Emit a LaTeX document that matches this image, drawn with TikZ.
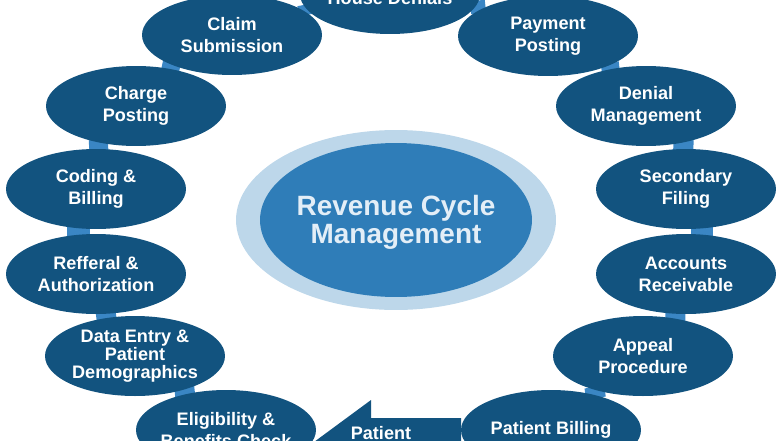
\documentclass[tikz,border=0pt]{standalone}
\usepackage{fontspec}
\setmainfont{Liberation Sans}
\usetikzlibrary{backgrounds}
\usetikzlibrary{shapes.geometric}
\definecolor{stepBlue}{HTML}{12537F}
\definecolor{linkBlue}{HTML}{3A86C4}
\definecolor{hubBlue}{HTML}{2F7DB8}
\definecolor{hubHalo}{HTML}{BDD7EA}
\definecolor{hubText}{HTML}{E3EEF7}
\tikzset{
	cycleStep/.style={ellipse, fill=stepBlue, text=white, font=\bfseries\fontsize{10.3}{10.6}\selectfont,
		align=center, minimum width=3.6cm, minimum height=1.6cm, inner sep=0pt, outer sep=0pt},
	cycleLink/.style={draw=linkBlue, line width=#1, shorten <=-1.5pt, shorten >=-1.5pt}
}
\newcommand{\drawStep}[3]{
	\node[cycleStep] (#1) at (#2) {#3};
}
\newcommand{\drawLink}[5]{
	\draw[cycleLink=#5] (#1.#2) -- (#3.#4);
}

\begin{document}
\begin{tikzpicture}[x=0.02cm,y=-0.02cm]
		\useasboundingbox (0,0) rectangle (780,440);
		\clip (0,0) rectangle (780,440);

		\coordinate (C_Claim) at (232,35);
		\coordinate (C_House) at (390,-6);
		\coordinate (C_Payment) at (548,36);
		\coordinate (C_Denial) at (646,106);
		\coordinate (C_Secondary) at (686,189);
		\coordinate (C_Accounts) at (686,274);
		\coordinate (C_Appeal) at (643,356);
		\coordinate (C_Billing) at (551,430);
		\coordinate (C_Eligibility) at (226,430);
		\coordinate (C_Data) at (135,356);
		\coordinate (C_Refferal) at (96,274);
		\coordinate (C_Coding) at (96,189);
		\coordinate (C_Charge) at (136,106);

		% centre
		\node[ellipse, fill=hubHalo, minimum width=6.4cm, minimum height=3.6cm, inner sep=0pt, outer sep=0pt] (halo) at (396,220) {};
		\node[ellipse, fill=hubBlue, text=hubText, font=\bfseries\fontsize{15.9}{15.9}\selectfont, align=center,
			minimum width=5.44cm, minimum height=3.08cm, inner sep=0pt, outer sep=0pt] (hub) at (396,220)
			{\rule{0pt}{14.5pt}\makebox[0pt]{Revenue Cycle}\\\makebox[0pt]{Management}};

		% steps
		\drawStep{claim}{C_Claim}{Claim\\[1.8pt]Submission}
		\drawStep{house}{C_House}{\\[1.8pt]House Denials}
		\drawStep{payment}{C_Payment}{Payment\\[1.8pt]Posting}
		\drawStep{denial}{C_Denial}{Denial\\[1.8pt]Management}
		\drawStep{secondary}{C_Secondary}{Secondary\\[1.8pt]Filing}
		\drawStep{accounts}{C_Accounts}{Accounts\\[1.8pt]Receivable}
		\drawStep{appeal}{C_Appeal}{Appeal\\[1.8pt]Procedure}
		\drawStep{billing}{C_Billing}{Patient Billing}
		\drawStep{eligibility}{C_Eligibility}{\makebox[0pt]{Eligibility \&}\\[1.8pt]\makebox[0pt]{Benefits Check}}
		\drawStep{data}{C_Data}{\makebox[0pt]{Data Entry \&}\\[-0.5pt]\makebox[0pt]{Patient}\\[-0.5pt]\makebox[0pt]{Demographics}}
		\drawStep{refferal}{C_Refferal}{Refferal \&\\[1.8pt]Authorization}
		\drawStep{coding}{C_Coding}{Coding \&\\[1.8pt]Billing}
		\drawStep{charge}{C_Charge}{Charge\\[1.8pt]Posting}

		% arrow
		\coordinate (A_Top) at (461,418);
		\coordinate (A_Neck) at (371,418);
		\coordinate (A_Head) at (371,400);
		\coordinate (A_Tip) at (314,442);
		\coordinate (A_Low) at (461,442);
		\begin{scope}[on background layer]
			\fill[stepBlue] (A_Top) -- (A_Neck) -- (A_Head) -- (A_Tip) -- (A_Low) -- cycle;
		\end{scope}
		\node[text=white, font=\bfseries\fontsize{10.3}{10.6}\selectfont, inner sep=0pt] (arrowLabel) at (381,433) {Patient};

		% ring between the steps
		\begin{scope}[on background layer]
			\drawLink{billing}{38.5}{appeal}{-145}{0.4cm}
			\drawLink{appeal}{49.5}{accounts}{-105.5}{0.4cm}
			\drawLink{accounts}{68}{secondary}{-68}{0.44cm}
			\drawLink{secondary}{94}{denial}{-44.6}{0.4cm}
			\drawLink{denial}{134.4}{payment}{-25}{0.36cm}
			\drawLink{payment}{160.9}{house}{-6.7}{0.3cm}
			\drawLink{house}{-171.3}{claim}{17.8}{0.3cm}
			\drawLink{claim}{-154}{charge}{47.4}{0.36cm}
			\drawLink{charge}{-136.3}{coding}{86}{0.38cm}
			\drawLink{coding}{-114.7}{refferal}{114.7}{0.46cm}
			\drawLink{refferal}{-76}{data}{127.4}{0.4cm}
			\drawLink{data}{-34}{eligibility}{139.4}{0.4cm}
		\end{scope}
	\end{tikzpicture}
\end{document}
